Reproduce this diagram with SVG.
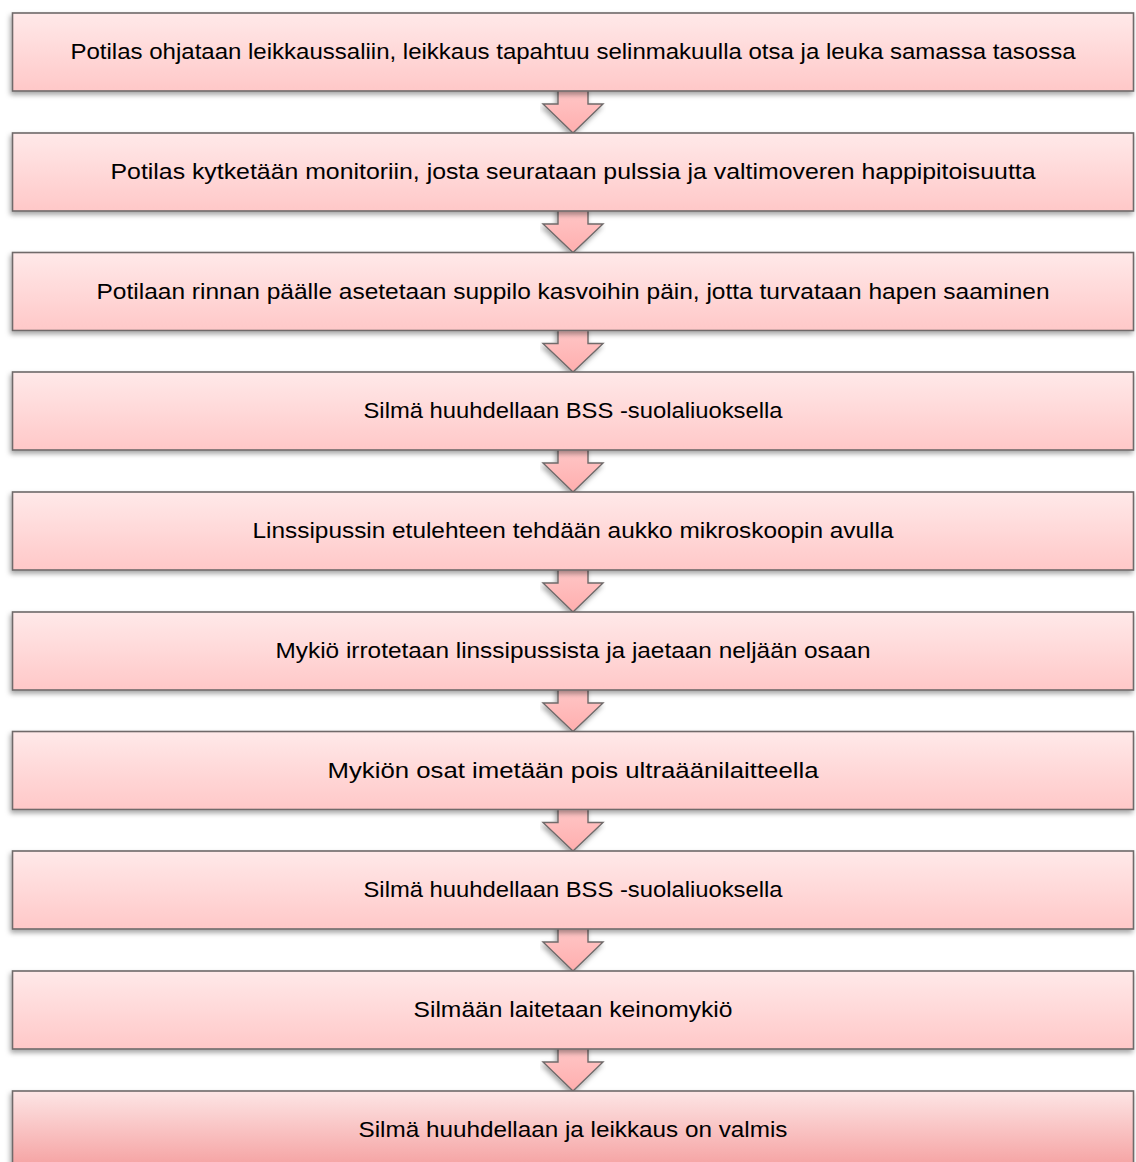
<svg xmlns="http://www.w3.org/2000/svg" width="1136" height="1162" viewBox="0 0 1136 1162">
<defs>
<linearGradient id="gBox" x1="0" y1="0" x2="0" y2="1">
<stop offset="0" stop-color="#ffe9e9"/>
<stop offset="1" stop-color="#ffc8c8"/>
</linearGradient>
<linearGradient id="gBoxLast" x1="0" y1="0" x2="0" y2="1">
<stop offset="0" stop-color="#fde5e5"/>
<stop offset="1" stop-color="#f5a0a0"/>
</linearGradient>
<linearGradient id="gArrow" x1="0" y1="0" x2="0" y2="1">
<stop offset="0" stop-color="#ffcaca"/>
<stop offset="1" stop-color="#ffaeae"/>
</linearGradient>
<filter id="sh" x="-5%" y="-20%" width="110%" height="150%">
<feDropShadow dx="-1.5" dy="3" stdDeviation="2.5" flood-color="#000" flood-opacity="0.35"/>
</filter>
</defs>
<style>
.box{fill:url(#gBox);stroke:#6f6a6a;stroke-width:1.6;filter:url(#sh)}
.arr{fill:url(#gArrow);stroke:#6f6a6a;stroke-width:1.4;stroke-linejoin:miter;filter:url(#sh)}
.t{font-family:"Liberation Sans",Arial,sans-serif;font-size:22px;fill:#000;text-anchor:middle}
</style>
<g id="connectors">
<path class="arr" d="M558,85 V104 H543 L573,133 L603,104 H588 V85 Z"/>
<path class="arr" d="M558,205 V224 H543 L573,252.5 L603,224 H588 V205 Z"/>
<path class="arr" d="M558,324 V343.5 H543 L573,372 L603,343.5 H588 V324 Z"/>
<path class="arr" d="M558,444 V463 H543 L573,492 L603,463 H588 V444 Z"/>
<path class="arr" d="M558,564 V583 H543 L573,612 L603,583 H588 V564 Z"/>
<path class="arr" d="M558,684 V703 H543 L573,731.5 L603,703 H588 V684 Z"/>
<path class="arr" d="M558,803 V822.5 H543 L573,851 L603,822.5 H588 V803 Z"/>
<path class="arr" d="M558,923 V942 H543 L573,971 L603,942 H588 V923 Z"/>
<path class="arr" d="M558,1043 V1062 H543 L573,1091 L603,1062 H588 V1043 Z"/>
</g>
<g id="n1"><rect class="box" x="12.5" y="13" width="1121" height="78"/><text class="t" x="573" y="59" textLength="1005" lengthAdjust="spacingAndGlyphs">Potilas ohjataan leikkaussaliin, leikkaus tapahtuu selinmakuulla otsa ja leuka samassa tasossa</text></g>
<g id="n2"><rect class="box" x="12.5" y="133" width="1121" height="78"/><text class="t" x="573" y="179" textLength="925" lengthAdjust="spacingAndGlyphs">Potilas kytketään monitoriin, josta seurataan pulssia ja valtimoveren happipitoisuutta</text></g>
<g id="n3"><rect class="box" x="12.5" y="252.5" width="1121" height="78"/><text class="t" x="573" y="298.5" textLength="953" lengthAdjust="spacingAndGlyphs">Potilaan rinnan päälle asetetaan suppilo kasvoihin päin, jotta turvataan hapen saaminen</text></g>
<g id="n4"><rect class="box" x="12.5" y="372" width="1121" height="78"/><text class="t" x="573" y="418" textLength="419" lengthAdjust="spacingAndGlyphs">Silmä huuhdellaan BSS -suolaliuoksella</text></g>
<g id="n5"><rect class="box" x="12.5" y="492" width="1121" height="78"/><text class="t" x="573" y="538" textLength="641" lengthAdjust="spacingAndGlyphs">Linssipussin etulehteen tehdään aukko mikroskoopin avulla</text></g>
<g id="n6"><rect class="box" x="12.5" y="612" width="1121" height="78"/><text class="t" x="573" y="658" textLength="595" lengthAdjust="spacingAndGlyphs">Mykiö irrotetaan linssipussista ja jaetaan neljään osaan</text></g>
<g id="n7"><rect class="box" x="12.5" y="731.5" width="1121" height="78"/><text class="t" x="573" y="777.5" textLength="491" lengthAdjust="spacingAndGlyphs">Mykiön osat imetään pois ultraäänilaitteella</text></g>
<g id="n8"><rect class="box" x="12.5" y="851" width="1121" height="78"/><text class="t" x="573" y="897" textLength="419" lengthAdjust="spacingAndGlyphs">Silmä huuhdellaan BSS -suolaliuoksella</text></g>
<g id="n9"><rect class="box" x="12.5" y="971" width="1121" height="78"/><text class="t" x="573" y="1017" textLength="319" lengthAdjust="spacingAndGlyphs">Silmään laitetaan keinomykiö</text></g>
<g id="n10"><rect class="box" style="fill:url(#gBoxLast)" x="12.5" y="1091" width="1121" height="78"/><text class="t" x="573" y="1137" textLength="429" lengthAdjust="spacingAndGlyphs">Silmä huuhdellaan ja leikkaus on valmis</text></g>
</svg>
